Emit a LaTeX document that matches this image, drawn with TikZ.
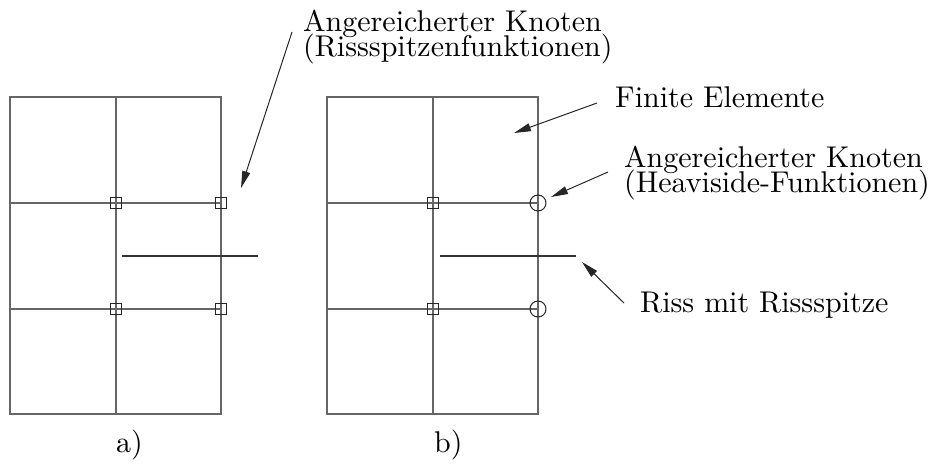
\documentclass[tikz,border=0pt]{standalone}
\usepackage{fontspec}
\newfontfamily\lmten{lmroman10-regular.otf}
\newcommand\mylblfont{\lmten\fontsize{30}{25}\selectfont\lineskiplimit-100pt\relax}
\usetikzlibrary{arrows.meta}
\begin{document}
\begin{tikzpicture}[x=1pt,y=-1pt,
  gridline/.style={draw=black!60,line width=1.4pt},
  cracklin/.style={draw=black!80,line width=2.4pt},
  sqnode/.style={draw=black!85,line width=1pt,minimum size=11pt,inner sep=0pt,rectangle,fill=none},
  crnode/.style={draw=black!85,line width=1pt,minimum size=16pt,inner sep=0pt,circle},
  ptr/.style={draw=black!85,line width=1pt,-{Triangle[length=17pt,width=8pt]}},
  lbl/.style={inner sep=0pt,font=\mylblfont,align=left}]
\useasboundingbox (0,0) rectangle (943,475);
% grid a
\draw[gridline] (10,97) rectangle (221,414);
\draw[gridline] (116,97) -- (116,414);
\draw[gridline] (10,203) -- (221,203);
\draw[gridline] (10,309) -- (221,309);
% grid b
\draw[gridline] (327,97) rectangle (538,414);
\draw[gridline] (433,97) -- (433,414);
\draw[gridline] (327,203) -- (538,203);
\draw[gridline] (327,309) -- (538,309);
% cracks
\coordinate (ca1) at (122,256); \coordinate (ca2) at (258,256);
\coordinate (cb1) at (440,256); \coordinate (cb2) at (576,256);
\draw[cracklin] (ca1) -- (ca2);
\draw[cracklin] (cb1) -- (cb2);
% enriched nodes
\node[sqnode] (a11) at (116,203) {};
\node[sqnode] (a12) at (221,203) {};
\node[sqnode] (a21) at (116,309) {};
\node[sqnode] (a22) at (221,309) {};
\node[sqnode] (b11) at (433,203) {};
\node[sqnode] (b21) at (433,309) {};
\node[crnode] (b12) at (538,203) {};
\node[crnode] (b22) at (538,309) {};
% labels
\node[lbl,anchor=north west] (l1) at (303,10) {Angereicherter Knoten\\(Rissspitzenfunktionen)};
\node[lbl,anchor=base west] (l2) at (615,107) {Finite Elemente};
\node[lbl,anchor=north west] (l3) at (624,146) {Angereicherter Knoten\\(Heaviside-Funktionen)};
\node[lbl,anchor=base west] (l4) at (640,312) {Riss mit Rissspitze};
\node[lbl,anchor=base west] (la) at (116,452) {a)};
\node[lbl,anchor=base west] (lb) at (434,452) {b)};
% arrows
\coordinate (s1) at (292,32); \coordinate (t1) at (241,188);
\coordinate (s2) at (597,103); \coordinate (t2) at (514,133);
\coordinate (s3) at (608,172); \coordinate (t3) at (551,197);
\coordinate (s4) at (624,303); \coordinate (t4) at (582,262);
\draw[ptr] (s1) -- (t1);
\draw[ptr] (s2) -- (t2);
\draw[ptr] (s3) -- (t3);
\draw[ptr] (s4) -- (t4);
\end{tikzpicture}
\end{document}
